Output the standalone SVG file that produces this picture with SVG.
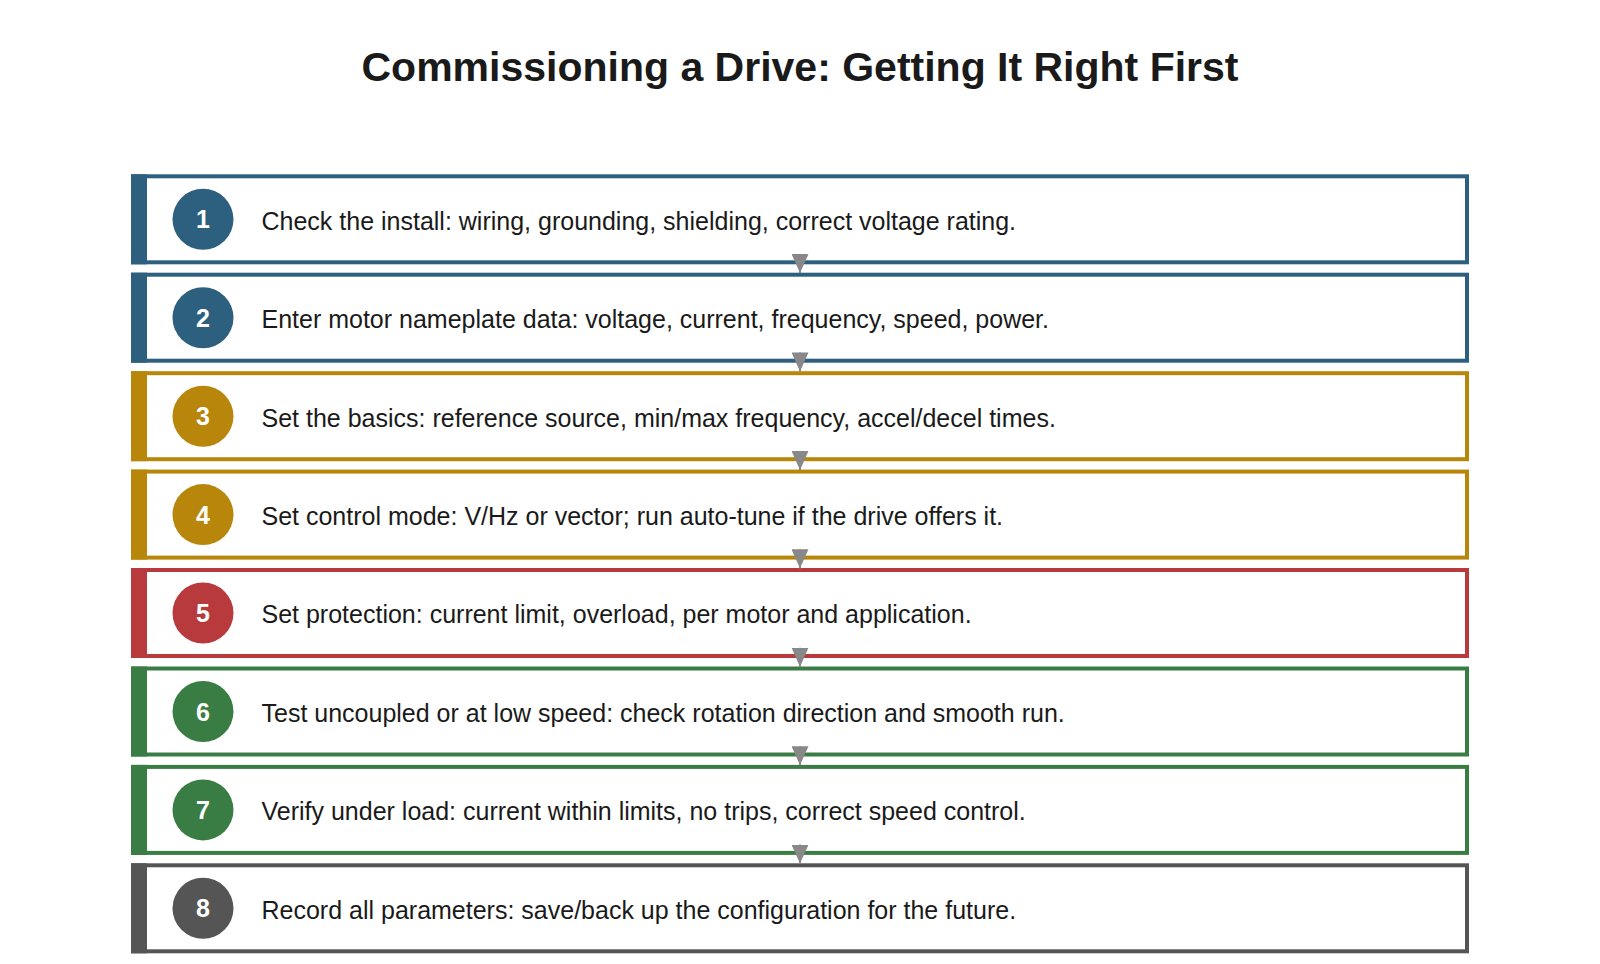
<svg xmlns="http://www.w3.org/2000/svg" width="1600" height="964" viewBox="0 0 1600 964">
<style>
.title{font-family:"Liberation Sans",Arial,sans-serif;font-weight:bold;font-size:41px;fill:#1a1a1a;text-anchor:middle}
.box{fill:#ffffff;stroke-width:4}
.num{font-family:"Liberation Sans",Arial,sans-serif;font-weight:bold;font-size:25px;fill:#ffffff;text-anchor:middle}
.txt{font-family:"Liberation Sans",Arial,sans-serif;font-size:25px;fill:#1a1a1a}
.blue{stroke:#2d5f7e}.bluef{fill:#2d5f7e}
.gold{stroke:#b8860b}.goldf{fill:#b8860b}
.red{stroke:#b83a3c}.redf{fill:#b83a3c}
.green{stroke:#3a7d44}.greenf{fill:#3a7d44}
.grey{stroke:#555555}.greyf{fill:#555555}
.conn{stroke:#888888;stroke-width:2;fill:none}
</style>
<defs>
<marker id="arr" markerUnits="userSpaceOnUse" markerWidth="19" markerHeight="17" viewBox="0 0 19 17" refX="19" refY="8.5" orient="auto">
<path d="M0,0 L19,8.5 L0,17 Z" fill="#888888"/>
</marker>
</defs>
<rect width="1600" height="964" fill="#ffffff"/>
<text class="title" x="800" y="81">Commissioning a Drive: Getting It Right First</text>

<g id="step1">
<rect class="box blue" x="133" y="176.3" width="1334" height="86"/>
<rect class="bluef" x="131" y="174.3" width="16" height="90"/>
<circle class="bluef" cx="203" cy="219.3" r="30.5"/>
<text class="num" x="203" y="228.3">1</text>
<text class="txt" x="261.5" y="229.6">Check the install: wiring, grounding, shielding, correct voltage rating.</text>
</g>
<g id="step2">
<rect class="box blue" x="133" y="274.7" width="1334" height="86"/>
<rect class="bluef" x="131" y="272.7" width="16" height="90"/>
<circle class="bluef" cx="203" cy="317.7" r="30.5"/>
<text class="num" x="203" y="326.7">2</text>
<text class="txt" x="261.5" y="328">Enter motor nameplate data: voltage, current, frequency, speed, power.</text>
</g>
<g id="step3">
<rect class="box gold" x="133" y="373.2" width="1334" height="86"/>
<rect class="goldf" x="131" y="371.2" width="16" height="90"/>
<circle class="goldf" cx="203" cy="416.2" r="30.5"/>
<text class="num" x="203" y="425.2">3</text>
<text class="txt" x="261.5" y="426.5">Set the basics: reference source, min/max frequency, accel/decel times.</text>
</g>
<g id="step4">
<rect class="box gold" x="133" y="471.6" width="1334" height="86"/>
<rect class="goldf" x="131" y="469.6" width="16" height="90"/>
<circle class="goldf" cx="203" cy="514.6" r="30.5"/>
<text class="num" x="203" y="523.6">4</text>
<text class="txt" x="261.5" y="524.9">Set control mode: V/Hz or vector; run auto-tune if the drive offers it.</text>
</g>
<g id="step5">
<rect class="box red" x="133" y="570" width="1334" height="86"/>
<rect class="redf" x="131" y="568" width="16" height="90"/>
<circle class="redf" cx="203" cy="613" r="30.5"/>
<text class="num" x="203" y="622">5</text>
<text class="txt" x="261.5" y="623.3">Set protection: current limit, overload, per motor and application.</text>
</g>
<g id="step6">
<rect class="box green" x="133" y="668.5" width="1334" height="86"/>
<rect class="greenf" x="131" y="666.5" width="16" height="90"/>
<circle class="greenf" cx="203" cy="711.5" r="30.5"/>
<text class="num" x="203" y="720.5">6</text>
<text class="txt" x="261.5" y="721.8">Test uncoupled or at low speed: check rotation direction and smooth run.</text>
</g>
<g id="step7">
<rect class="box green" x="133" y="766.9" width="1334" height="86"/>
<rect class="greenf" x="131" y="764.9" width="16" height="90"/>
<circle class="greenf" cx="203" cy="809.9" r="30.5"/>
<text class="num" x="203" y="818.9">7</text>
<text class="txt" x="261.5" y="820.2">Verify under load: current within limits, no trips, correct speed control.</text>
</g>
<g id="step8">
<rect class="box grey" x="133" y="865.3" width="1334" height="86"/>
<rect class="greyf" x="131" y="863.3" width="16" height="90"/>
<circle class="greyf" cx="203" cy="908.3" r="30.5"/>
<text class="num" x="203" y="917.3">8</text>
<text class="txt" x="261.5" y="918.6">Record all parameters: save/back up the configuration for the future.</text>
</g>

<g id="connectors">
<line class="conn" x1="800" y1="254" x2="800" y2="273" marker-end="url(#arr)"/>
<line class="conn" x1="800" y1="352.4" x2="800" y2="371.4" marker-end="url(#arr)"/>
<line class="conn" x1="800" y1="450.9" x2="800" y2="469.9" marker-end="url(#arr)"/>
<line class="conn" x1="800" y1="549.3" x2="800" y2="568.3" marker-end="url(#arr)"/>
<line class="conn" x1="800" y1="647.7" x2="800" y2="666.7" marker-end="url(#arr)"/>
<line class="conn" x1="800" y1="746.2" x2="800" y2="765.2" marker-end="url(#arr)"/>
<line class="conn" x1="800" y1="844.6" x2="800" y2="863.6" marker-end="url(#arr)"/>
</g>
</svg>
